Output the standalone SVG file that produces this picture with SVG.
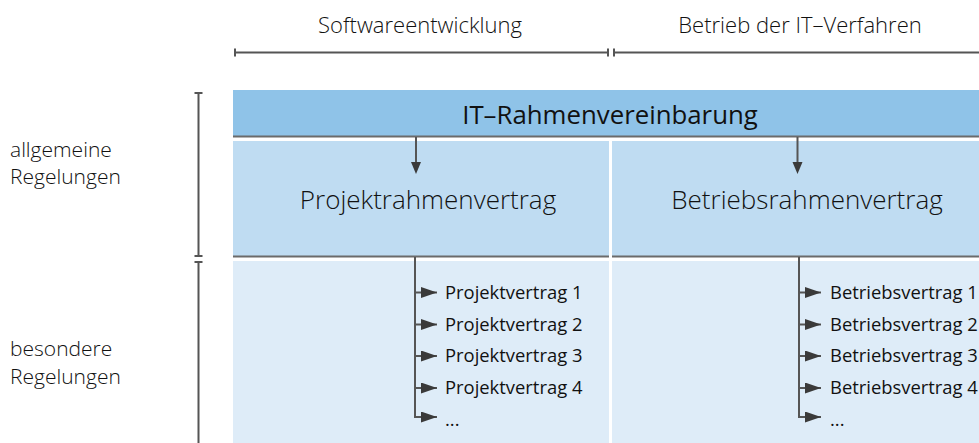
<svg xmlns="http://www.w3.org/2000/svg" width="979" height="443" viewBox="0 0 979 443">
<defs>
<style>
text{font-family:"Open Sans","Noto Sans","DejaVu Sans",sans-serif;fill:#111;}
.lbl{font-size:22px;font-weight:300;}
.side{font-size:21px;font-weight:300;}
.big{font-size:25.8px;font-weight:400;text-anchor:middle;}
.mid{font-size:26px;font-weight:300;text-anchor:middle;}
.item{font-size:18.4px;font-weight:400;}
.dim{stroke:#555;stroke-width:2;fill:none;}
.sep{stroke:#6b6b6b;stroke-width:2;}
.conn{stroke:#555;stroke-width:2;fill:none;}
.head{fill:#3a3a3a;}
</style>
<marker id="ah" viewBox="0 0 16 11" refX="16" refY="5.5" markerWidth="16" markerHeight="11" markerUnits="userSpaceOnUse" orient="auto">
<path d="M0,0 L16,5.5 L0,11 Z" fill="#3a3a3a"/>
</marker>
</defs>
<rect width="979" height="443" fill="#fff"/>
<g id="dimensions">
<text class="lbl" x="420" y="33" text-anchor="middle">Softwareentwicklung</text>
<text class="lbl" x="800" y="33" text-anchor="middle">Betrieb der IT–Verfahren</text>
<path class="dim" d="M235,52.5 H608 M235,48.5 V56.5 M608,48.5 V56.5 M614,52.5 H979 M614,48.5 V56.5"/>
<text class="side" x="10" y="157">allgemeine</text>
<text class="side" x="10" y="184">Regelungen</text>
<text class="side" x="10" y="356">besondere</text>
<text class="side" x="10" y="384">Regelungen</text>
<path class="dim" d="M198.5,93 V256 M194.5,93 H202.5 M194.5,256 H202.5 M198.5,262 V443 M194.5,262 H202.5"/>
</g>
<g id="it-rahmenvereinbarung">
<rect x="233" y="90" width="746" height="46" fill="#8fc3e8"/>
<line class="sep" x1="233" y1="136.5" x2="979" y2="136.5"/>
<text class="big" x="610" y="124">IT–Rahmenvereinbarung</text>
</g>
<g id="projektrahmenvertrag">
<rect x="233" y="141" width="376" height="115" fill="#bfdcf2"/>
<line class="sep" x1="233" y1="256.5" x2="609" y2="256.5"/>
<text class="mid" x="428" y="209">Projektrahmenvertrag</text>
</g>
<g id="betriebsrahmenvertrag">
<rect x="612" y="141" width="367" height="115" fill="#bfdcf2"/>
<line class="sep" x1="612" y1="256.5" x2="979" y2="256.5"/>
<text class="mid" x="807" y="209">Betriebsrahmenvertrag</text>
</g>
<g id="projektvertraege">
<rect x="233" y="261" width="376" height="182" fill="#deecf8"/>
<text class="item" x="445" y="299">Projektvertrag 1</text>
<text class="item" x="445" y="331">Projektvertrag 2</text>
<text class="item" x="445" y="362">Projektvertrag 3</text>
<text class="item" x="445" y="394">Projektvertrag 4</text>
<text class="item" x="445" y="426">...</text>
</g>
<g id="betriebsvertraege">
<rect x="612" y="261" width="367" height="182" fill="#deecf8"/>
<text class="item" x="830" y="299">Betriebsvertrag 1</text>
<text class="item" x="830" y="331">Betriebsvertrag 2</text>
<text class="item" x="830" y="362">Betriebsvertrag 3</text>
<text class="item" x="830" y="394">Betriebsvertrag 4</text>
<text class="item" x="830" y="426">...</text>
</g>
<g id="connectors">
<line class="conn" x1="416" y1="137" x2="416" y2="163"/>
<polygon class="head" points="411,162 421,162 416,174"/>
<line class="conn" x1="797.5" y1="137" x2="797.5" y2="163"/>
<polygon class="head" points="792.5,162 802.5,162 797.5,174"/>
<path class="conn" d="M415,257 V417 H437" marker-end="url(#ah)"/>
<path class="conn" d="M415,292.5 H437" marker-end="url(#ah)"/>
<path class="conn" d="M415,324.5 H437" marker-end="url(#ah)"/>
<path class="conn" d="M415,356 H437" marker-end="url(#ah)"/>
<path class="conn" d="M415,388 H437" marker-end="url(#ah)"/>
<path class="conn" d="M799,257 V417 H821" marker-end="url(#ah)"/>
<path class="conn" d="M799,292.5 H821" marker-end="url(#ah)"/>
<path class="conn" d="M799,324.5 H821" marker-end="url(#ah)"/>
<path class="conn" d="M799,356 H821" marker-end="url(#ah)"/>
<path class="conn" d="M799,388 H821" marker-end="url(#ah)"/>
</g>
</svg>
